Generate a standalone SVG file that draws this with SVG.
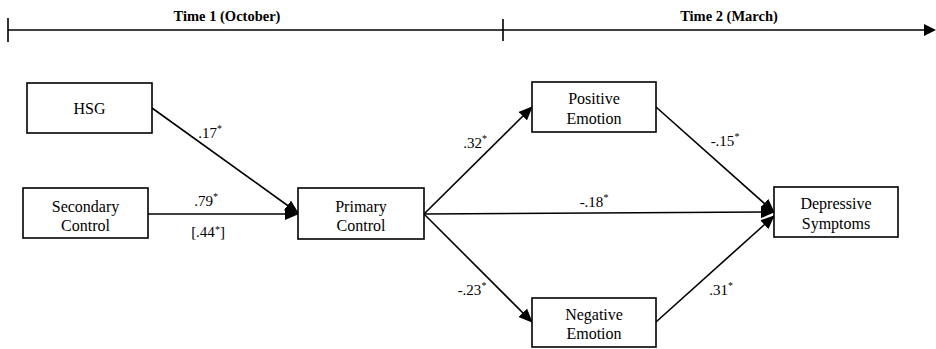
<svg xmlns="http://www.w3.org/2000/svg" width="936" height="349" viewBox="0 0 936 349" font-family="'Liberation Serif', 'Times New Roman', serif">
<style>
text{font-family:'Liberation Serif','Times New Roman',serif}
.box{fill:#fff;stroke:#000;stroke-width:1.6}
.t{font-size:16px;fill:#000;text-anchor:middle}
.l{font-size:15px;fill:#000;text-anchor:middle}
.h{font-size:14.5px;font-weight:bold;fill:#000;text-anchor:middle}
.c{stroke:#000;stroke-width:1.6;fill:none}
.s{font-size:10px}
</style>
<defs>
<marker id="ah" markerUnits="userSpaceOnUse" markerWidth="14" markerHeight="12" refX="13" refY="6" orient="auto">
<path d="M0,0 L14,6 L0,12 Z" fill="#000"/>
</marker>
</defs>
<g id="timeline">
<line class="c" x1="8" y1="30" x2="926" y2="30" stroke-width="2"/>
<path d="M924,24 L936,30 L924,36 Z" fill="#000"/>
<line class="c" x1="8" y1="18" x2="8" y2="42" stroke-width="2"/>
<line class="c" x1="503" y1="19" x2="503" y2="41" stroke-width="2"/>
<text class="h" x="227" y="21">Time 1 (October)</text>
<text class="h" x="729" y="21">Time 2 (March)</text>
</g>
<g id="connectors">
<line class="c" x1="152" y1="108" x2="298" y2="213" marker-end="url(#ah)"/>
<line class="c" x1="148" y1="214" x2="298" y2="214" marker-end="url(#ah)"/>
<line class="c" x1="424" y1="214" x2="532" y2="107" marker-end="url(#ah)"/>
<line class="c" x1="424" y1="214" x2="774" y2="212" marker-end="url(#ah)"/>
<line class="c" x1="424" y1="214" x2="532" y2="322" marker-end="url(#ah)"/>
<line class="c" x1="656" y1="107" x2="774" y2="212" marker-end="url(#ah)"/>
<line class="c" x1="656" y1="322" x2="774" y2="216" marker-end="url(#ah)"/>
<text class="l" x="210" y="138">.17<tspan class="s" dy="-6">*</tspan></text>
<text class="l" x="206" y="206">.79<tspan class="s" dy="-6">*</tspan></text>
<text class="l" x="208" y="237" font-size="11">[.44<tspan class="s" font-size="8" dy="-4">*</tspan><tspan dy="4">]</tspan></text>
<text class="l" x="475" y="148">.32<tspan class="s" dy="-6">*</tspan></text>
<text class="l" x="594" y="207">-.18<tspan class="s" dy="-6">*</tspan></text>
<text class="l" x="725" y="146">-.15<tspan class="s" dy="-6">*</tspan></text>
<text class="l" x="472" y="295">-.23<tspan class="s" dy="-6">*</tspan></text>
<text class="l" x="721" y="295">.31<tspan class="s" dy="-6">*</tspan></text>
</g>
<g id="hsg">
<rect class="box" x="27" y="83" width="125" height="50"/>
<text class="t" x="89.5" y="114">HSG</text>
</g>
<g id="secondary">
<rect class="box" x="23" y="188" width="125" height="50"/>
<text class="t" x="85.5" y="212">Secondary</text>
<text class="t" x="85.5" y="231">Control</text>
</g>
<g id="primary">
<rect class="box" x="298" y="188" width="126" height="51"/>
<text class="t" x="361" y="212">Primary</text>
<text class="t" x="361" y="231">Control</text>
</g>
<g id="positive">
<rect class="box" x="532" y="82" width="124" height="50"/>
<text class="t" x="594" y="104">Positive</text>
<text class="t" x="594" y="124">Emotion</text>
</g>
<g id="negative">
<rect class="box" x="532" y="298" width="124" height="49"/>
<text class="t" x="594" y="320">Negative</text>
<text class="t" x="594" y="339">Emotion</text>
</g>
<g id="depressive">
<rect class="box" x="774" y="187" width="124" height="50"/>
<text class="t" x="836" y="209">Depressive</text>
<text class="t" x="836" y="229">Symptoms</text>
</g>
</svg>
